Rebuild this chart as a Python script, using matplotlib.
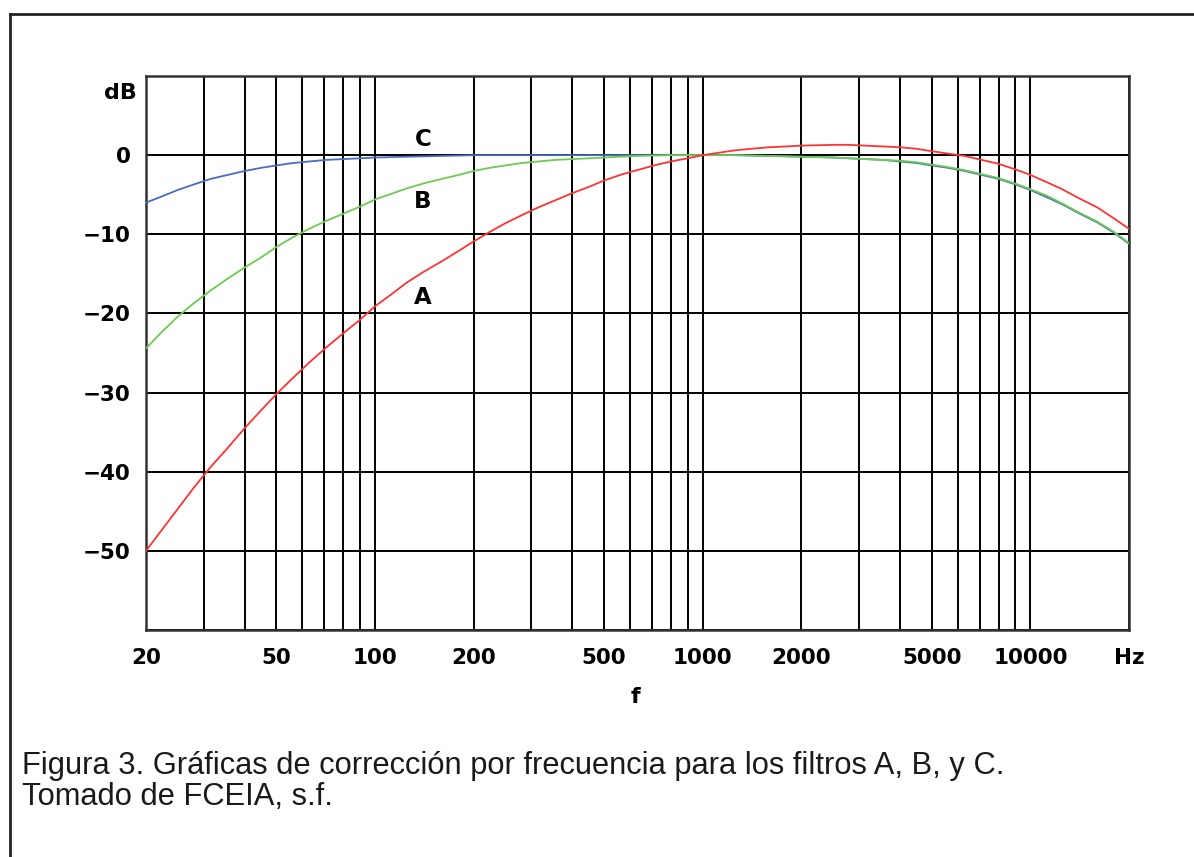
import matplotlib
matplotlib.use("Agg")
import matplotlib.pyplot as plt
from matplotlib.lines import Line2D
from matplotlib.ticker import FixedLocator, NullFormatter

freqs = [20, 22.4, 25, 28, 31.5, 35.5, 40, 45, 50, 56,
         63, 71, 80, 90, 100, 112, 125, 140, 160, 180,
         200, 224, 250, 280, 315, 355, 400, 450, 500, 560,
         630, 710, 800, 900, 1000, 1120, 1250, 1400, 1600, 1800,
         2000, 2240, 2500, 2800, 3150, 3550, 4000, 4500, 5000, 5600,
         6300, 7100, 8000, 9000, 10000, 11200, 12500, 14000, 16000, 18000,
         20000]

curve_a = [-50.0, -47.3, -44.7, -42.0, -39.4, -37.0, -34.5, -32.2, -30.2, -28.2,
           -26.2, -24.3, -22.5, -20.8, -19.1, -17.6, -16.1, -14.8, -13.4, -12.1,
           -10.9, -9.7, -8.6, -7.6, -6.6, -5.7, -4.8, -4.0, -3.2, -2.5,
           -1.9, -1.3, -0.8, -0.4, 0.0, 0.3, 0.6, 0.8, 1.0, 1.1,
           1.2, 1.25, 1.3, 1.3, 1.2, 1.1, 1.0, 0.8, 0.5, 0.2,
           -0.1, -0.6, -1.1, -1.8, -2.5, -3.4, -4.3, -5.4, -6.6, -8.0,
           -9.3]
curve_b = [-24.4, -22.3, -20.4, -18.7, -17.1, -15.6, -14.2, -12.9, -11.6, -10.4,
           -9.3, -8.3, -7.4, -6.5, -5.6, -4.9, -4.2, -3.6, -3.0, -2.5,
           -2.0, -1.6, -1.3, -1.0, -0.8, -0.6, -0.5, -0.4, -0.3, -0.2,
           -0.1, -0.05, 0.0, 0.0, 0.0, 0.0, 0.0, -0.05, -0.1, -0.15,
           -0.2, -0.25, -0.3, -0.4, -0.5, -0.6, -0.7, -0.9, -1.2, -1.5,
           -1.9, -2.4, -2.9, -3.6, -4.3, -5.1, -6.1, -7.2, -8.4, -9.7,
           -11.1]
curve_c = [-6.0, -5.2, -4.4, -3.7, -3.0, -2.5, -2.0, -1.6, -1.3, -1.0,
           -0.8, -0.6, -0.5, -0.4, -0.3, -0.25, -0.2, -0.15, -0.1, -0.05,
           0.0, 0.0, 0.0, 0.0, 0.0, 0.0, 0.0, 0.0, 0.0, 0.0,
           0.0, 0.0, 0.0, 0.0, 0.0, 0.0, 0.0, -0.05, -0.1, -0.15,
           -0.2, -0.25, -0.3, -0.4, -0.5, -0.6, -0.8, -1.0, -1.3, -1.6,
           -2.0, -2.5, -3.0, -3.7, -4.4, -5.3, -6.2, -7.3, -8.5, -9.8,
           -11.2]

x_ticks = [20, 50, 100, 200, 500, 1000, 2000, 5000, 10000, 20000]
x_labels = ["20", "50", "100", "200", "500", "1000", "2000", "5000", "10000", "Hz"]
x_minor = [30, 40, 60, 70, 80, 90, 300, 400, 600, 700, 800, 900,
           3000, 4000, 6000, 7000, 8000, 9000]
y_ticks = [0, -10, -20, -30, -40, -50]
y_labels = ["0", "\u221210", "\u221220", "\u221230", "\u221240", "\u221250"]
y_grid = [10, 0, -10, -20, -30, -40, -50, -60]

# curve name tags: (label, frequency, dB)
tags = [("C", 140, 2.0), ("B", 140, -5.8), ("A", 140, -18.0)]

caption = ["Figura 3. Gráficas de corrección por frecuencia para los filtros A, B, y C.",
           "Tomado de FCEIA, s.f."]

W, H = 1194, 857
fig = plt.figure(figsize=(W / 100, H / 100), dpi=100)
ax = fig.add_axes([146 / W, 1 - 630 / H, (1129 - 146) / W, (630 - 76) / H])

ax.set_xscale("log")
ax.set_xlim(20, 20000)
ax.set_ylim(-60, 10)

ax.xaxis.set_major_locator(FixedLocator(x_ticks))
ax.xaxis.set_minor_locator(FixedLocator(x_minor))
ax.xaxis.set_minor_formatter(NullFormatter())
ax.set_xticklabels(x_labels)
ax.yaxis.set_major_locator(FixedLocator(y_grid))
ax.set_yticklabels(["" if v not in y_ticks else y_labels[y_ticks.index(v)]
                    for v in y_grid])

ax.grid(True, which="both", axis="x", color="black", lw=1.4)
ax.grid(True, which="major", axis="y", color="black", lw=1.4)
ax.tick_params(which="both", length=0)
ax.tick_params(axis="x", pad=13)
ax.tick_params(axis="y", pad=11)
for lab in ax.get_xticklabels() + ax.get_yticklabels():
    lab.set_fontweight("bold")
    lab.set_fontsize(15.5)
    lab.set_family("DejaVu Sans")
for sp in ax.spines.values():
    sp.set_color("#333333")
    sp.set_linewidth(1.8)

ax.plot(freqs, curve_c, color="#4a6cc4", lw=1.3, zorder=3)
ax.plot(freqs, curve_b, color="#6ccb50", lw=1.3, zorder=3)
ax.plot(freqs, curve_a, color="#ff3333", lw=1.3, zorder=3)

for name, fx, fy in tags:
    ax.text(fx, fy, name, ha="center", va="center", fontsize=16.5,
            fontweight="bold", family="DejaVu Sans", zorder=4)

fig.text(137 / W, 1 - 93 / H, "dB", ha="right", va="center", fontsize=16,
         fontweight="bold", family="DejaVu Sans")
fig.text(635 / W, 1 - 697 / H, "f", ha="center", va="center", fontsize=16,
         fontweight="bold", family="DejaVu Sans")

fig.text(22 / W, 1 - 766 / H, caption[0], ha="left", va="center",
         fontsize=22.2, family="Liberation Sans", color="#1a1a1a")
fig.text(22 / W, 1 - 797 / H, caption[1], ha="left", va="center",
         fontsize=22.2, family="Liberation Sans", color="#1a1a1a")

# outer frame (top and left edges)
fig.add_artist(Line2D([10 / W, 10 / W], [0, 1 - 14 / H],
                      transform=fig.transFigure, color="#222222", lw=2))
fig.add_artist(Line2D([10 / W, 1], [1 - 14 / H, 1 - 14 / H],
                      transform=fig.transFigure, color="#222222", lw=2))

fig.savefig("out.png", dpi=100)
